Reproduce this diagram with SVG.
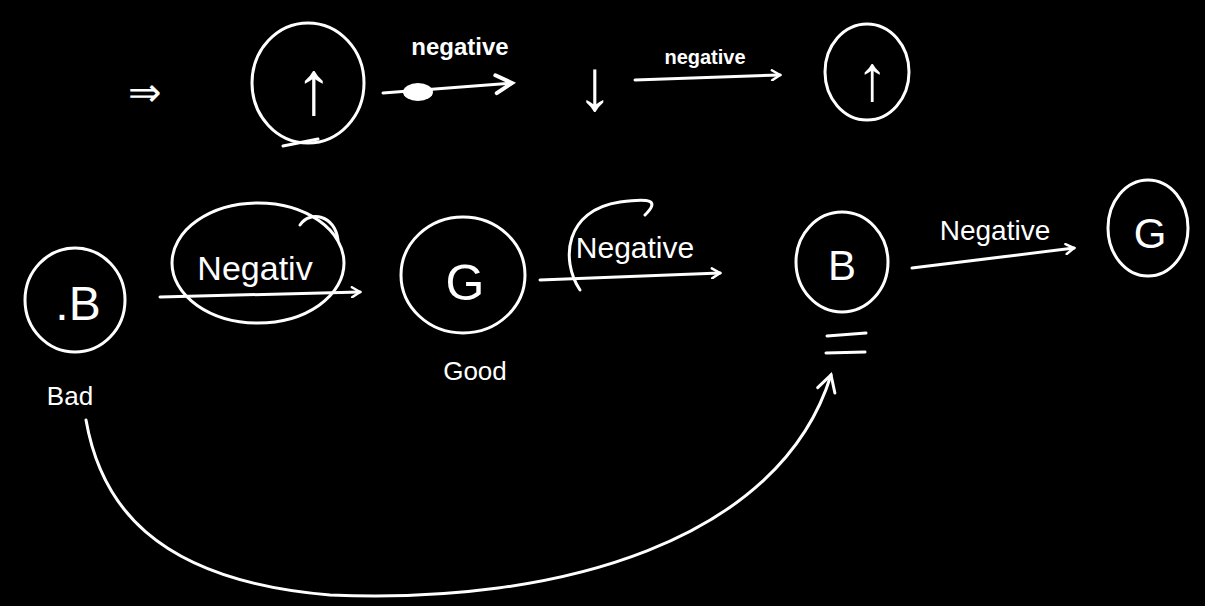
<svg xmlns="http://www.w3.org/2000/svg" width="1205" height="606" viewBox="0 0 1205 606">
<defs>
<style>
.s{fill:none;stroke:#fff;stroke-width:3;stroke-linecap:round;stroke-linejoin:round}
.t{fill:#fff;font-family:"Liberation Sans",Arial,sans-serif}
</style>
<marker id="ah" viewBox="0 0 12 12" refX="10" refY="6" markerWidth="12" markerHeight="12" markerUnits="userSpaceOnUse" orient="auto">
<path d="M2,1 L10,6 L2,11" fill="none" stroke="#fff" stroke-width="2.5" stroke-linecap="round"/>
</marker>
<marker id="ahw" viewBox="0 0 24 24" refX="20" refY="12" markerWidth="24" markerHeight="24" markerUnits="userSpaceOnUse" orient="auto">
<path d="M4,3 L20,12 L4,21" fill="none" stroke="#fff" stroke-width="4" stroke-linecap="round"/>
</marker>
<marker id="ahb" viewBox="0 0 24 24" refX="20" refY="12" markerWidth="24" markerHeight="24" markerUnits="userSpaceOnUse" orient="auto">
<path d="M4,3 L20,12 L4,21" fill="none" stroke="#fff" stroke-width="3" stroke-linecap="round"/>
</marker>
</defs>
<rect width="1205" height="606" fill="#000"/>

<g id="implies"><text class="t" x="145" y="106" font-size="40" text-anchor="middle">⇒</text></g>

<g id="n-up1">
<ellipse class="s" cx="308" cy="83" rx="56" ry="60"/>
<path class="s" d="M283,146 L318,139" stroke-width="4"/>
<text class="t" x="314" y="114" font-size="76" font-weight="bold" text-anchor="middle">↑</text>
</g>

<g id="n-down"><text class="t" x="595" y="110" font-size="72" font-weight="bold" text-anchor="middle">↓</text></g>

<g id="n-up2">
<ellipse class="s" cx="867" cy="72" rx="42" ry="48"/>
<text class="t" x="872" y="100" font-size="64" font-weight="bold" text-anchor="middle">↑</text>
</g>

<g id="n-B1">
<ellipse class="s" cx="75" cy="300" rx="50" ry="52"/>
<text class="t" x="78" y="320" font-size="48" text-anchor="middle">.B</text>
<text class="t" x="70" y="405" font-size="26" text-anchor="middle">Bad</text>
</g>

<g id="n-G1">
<ellipse class="s" cx="463" cy="275" rx="62" ry="58"/>
<text class="t" x="465" y="300" font-size="50" text-anchor="middle">G</text>
<text class="t" x="475" y="380" font-size="26" text-anchor="middle">Good</text>
</g>

<g id="n-B2">
<ellipse class="s" cx="842" cy="262" rx="46" ry="50"/>
<text class="t" x="842" y="280" font-size="42" text-anchor="middle">B</text>
<path class="s" d="M827,336 L866,333 M826,353 L865,352"/>
</g>

<g id="n-G2">
<ellipse class="s" cx="1148" cy="228" rx="40" ry="48"/>
<text class="t" x="1150" y="248" font-size="42" text-anchor="middle">G</text>
</g>

<g id="connectors">
<path class="s" d="M383,93 L512,83" marker-end="url(#ahw)" stroke-width="5"/>
<ellipse cx="418" cy="92" rx="15" ry="9" fill="#fff"/>
<text class="t" x="460" y="55" font-size="24" font-weight="bold" text-anchor="middle">negative</text>

<path class="s" d="M635,80 L780,75" marker-end="url(#ah)"/>
<text class="t" x="705" y="64" font-size="20" font-weight="bold" text-anchor="middle">negative</text>

<path class="s" d="M160,297 L360,292" marker-end="url(#ah)"/>
<ellipse class="s" cx="258" cy="263" rx="86" ry="60"/>
<path class="s" d="M300,225 C310,210 335,215 338,240"/>
<text class="t" x="255" y="280" font-size="34" text-anchor="middle">Negativ</text>

<path class="s" d="M540,280 L720,273" marker-end="url(#ah)"/>
<path class="s" d="M580,290 C560,260 565,210 620,202 C650,198 660,200 645,215"/>
<text class="t" x="635" y="258" font-size="30" text-anchor="middle">Negative</text>

<path class="s" d="M912,268 L1074,248" marker-end="url(#ah)"/>
<text class="t" x="995" y="240" font-size="28" text-anchor="middle">Negative</text>

<path class="s" d="M86,420 C100,500 150,580 330,595 C560,605 780,540 831,375" marker-end="url(#ahb)"/>
</g>
</svg>
